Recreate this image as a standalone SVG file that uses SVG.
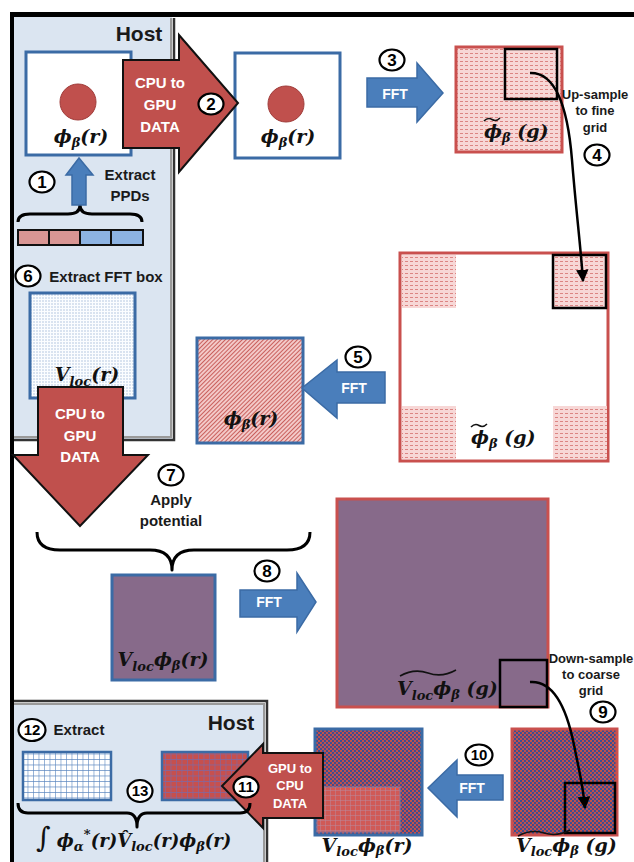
<svg xmlns="http://www.w3.org/2000/svg" width="634" height="862" viewBox="0 0 634 862">
<style>
.lbl{font-family:"Liberation Sans",Arial,sans-serif;font-weight:bold;font-size:15px;fill:#1a1a1a;text-anchor:middle}
.sm{font-size:13px}
.wt{fill:#fff;font-size:15px}
.ft{fill:#fff;font-size:14px}
.m{font-family:"DejaVu Serif","Liberation Serif",serif;font-weight:bold;font-style:italic;font-size:19px;fill:#111;text-anchor:middle}
.st{text-anchor:start}
.s{font-size:13px}
.tld{fill:none;stroke:#111;stroke-width:1.6}
.num ellipse{fill:#fff;stroke:#000;stroke-width:2.2}
.num text{font-family:"Liberation Sans",Arial,sans-serif;font-weight:bold;font-size:17px;fill:#000;text-anchor:middle}
.num .two{font-size:15px}
.bb{stroke:#3b6ba5;stroke-width:3}
.rb{stroke:#c9504e;stroke-width:3}
.blk{fill:none;stroke:#000;stroke-width:2.5}
.big{fill:#c0504d;stroke:#111;stroke-width:2}
.fft{fill:#4a7ebb;stroke:#3b6ba5;stroke-width:1.5}
.brace{fill:none;stroke:#000;stroke-width:3;stroke-linejoin:round}
.cur{fill:none;stroke:#000;stroke-width:2.5}
</style>
<defs>
<pattern id="pdots" width="5" height="4" patternUnits="userSpaceOnUse"><rect width="5" height="4" fill="#f7d7d6"/><rect x="0" y="1" width="3" height="1" fill="#dc8583"/></pattern>
<pattern id="phatch" width="3" height="3" patternUnits="userSpaceOnUse" patternTransform="rotate(45)"><rect width="3" height="3" fill="#f3c9c8"/><rect width="1" height="3" fill="#c9605d"/></pattern>
<pattern id="bdots" width="3" height="3" patternUnits="userSpaceOnUse"><rect width="3" height="3" fill="#fbfdff"/><circle cx="1" cy="1" r="0.7" fill="#9db6d6"/></pattern>
<pattern id="chk" width="4" height="4" patternUnits="userSpaceOnUse"><rect width="4" height="4" fill="#c0504d"/><rect width="2" height="2" fill="#3f4d8f"/><rect x="2" y="2" width="2" height="2" fill="#3f4d8f"/></pattern>
<pattern id="gw" width="5.5" height="5.5" patternUnits="userSpaceOnUse"><rect width="5.5" height="5.5" fill="#fff"/><path d="M0,0H5.5M0,0V5.5" stroke="#5a86c0" stroke-width="1.2"/></pattern>
<pattern id="gr" width="5.5" height="5.5" patternUnits="userSpaceOnUse"><rect width="5.5" height="5.5" fill="#c6504e"/><path d="M0,0H5.5M0,0V5.5" stroke="#7b6aa8" stroke-width="1.2"/></pattern>
<pattern id="gr2" width="5" height="5" patternUnits="userSpaceOnUse"><rect width="5" height="5" fill="#d05a57"/><path d="M0,0H5M0,0V5" stroke="#b98a9e" stroke-width="1"/></pattern>
<marker id="ah" viewBox="0 0 10 10" refX="9" refY="5" markerWidth="5" markerHeight="5" orient="auto"><path d="M0,0L10,5L0,10z" fill="#000"/></marker>
</defs>

<g id="frame">
<rect x="14" y="17" width="158" height="422" fill="#dbe5f1"/>
<path d="M171,18V437H14" fill="none" stroke="#9a9a9a" stroke-width="2"/>
<path d="M174,18V440H14" fill="none" stroke="#333" stroke-width="2.5"/>
<rect x="14" y="703" width="251" height="159" fill="#dbe5f1"/>
<path d="M14,704H264V862" fill="none" stroke="#9a9a9a" stroke-width="2"/>
<path d="M14,701H267V862" fill="none" stroke="#333" stroke-width="2.5"/>
<rect x="10" y="12" width="624" height="5" fill="#000"/>
<rect x="10" y="12" width="4" height="850" fill="#000"/>
<text class="lbl" x="139" y="41" style="font-size:21px">Host</text>
<text class="lbl" x="231" y="730" style="font-size:21px">Host</text>
</g>

<g id="ppd">
<rect x="18" y="230" width="31" height="15" fill="#d99694" stroke="#111" stroke-width="2"/>
<rect x="49" y="230" width="31" height="15" fill="#d99694" stroke="#111" stroke-width="2"/>
<rect x="80" y="230" width="31" height="15" fill="#8db3e2" stroke="#111" stroke-width="2"/>
<rect x="111" y="230" width="32" height="15" fill="#8db3e2" stroke="#111" stroke-width="2"/>
<text class="lbl" x="130" y="180">Extract</text>
<text class="lbl" x="130" y="201">PPDs</text>
</g>

<g id="phi-host">
<rect x="26" y="52" width="105" height="103" fill="#fff" class="bb"/>
<circle cx="78" cy="102" r="18" fill="#c0504d" stroke="#a03c3a" stroke-width="1"/>
<text class="m" x="81" y="143">ϕ<tspan class="s" dy="4">β</tspan><tspan dy="-4">(r)</tspan></text>
</g>

<g id="phi-gpu">
<rect x="235" y="53" width="105" height="105" fill="#fff" class="bb"/>
<circle cx="286" cy="104" r="18" fill="#c0504d" stroke="#a03c3a" stroke-width="1"/>
<text class="m" x="288" y="143">ϕ<tspan class="s" dy="4">β</tspan><tspan dy="-4">(r)</tspan></text>
</g>

<g id="phig-coarse">
<rect x="456" y="47" width="106" height="105" fill="url(#pdots)" class="rb"/>
<rect x="505" y="49" width="52" height="50" class="blk"/>
<text class="m st" x="484" y="138">ϕ<tspan class="s" dy="4">β</tspan><tspan dy="-4"> (g)</tspan></text>
<path class="tld" d="M484,121q4,-4 8,-1.5t8,-1.5"/>
<text class="lbl sm" x="595" y="99">Up-sample</text>
<text class="lbl sm" x="595" y="115">to fine</text>
<text class="lbl sm" x="595" y="132">grid</text>
</g>

<g id="phig-fine">
<rect x="400" y="253" width="208" height="208" fill="#fff" class="rb"/>
<rect x="402" y="255" width="54" height="53" fill="url(#pdots)"/>
<rect x="402" y="406" width="54" height="53" fill="url(#pdots)"/>
<rect x="553" y="406" width="54" height="53" fill="url(#pdots)"/>
<rect x="553" y="255" width="53" height="53" fill="url(#pdots)"/>
<rect x="553" y="255" width="53" height="53" class="blk"/>
<text class="m st" x="471" y="444">ϕ<tspan class="s" dy="4">β</tspan><tspan dy="-4"> (g)</tspan></text>
<path class="tld" d="M471,427q4,-4 8,-1.5t8,-1.5"/>
</g>

<g id="phi-fine">
<rect x="197" y="338" width="106" height="105" fill="url(#phatch)" class="bb"/>
<text class="m" x="251" y="425">ϕ<tspan class="s" dy="4">β</tspan><tspan dy="-4">(r)</tspan></text>
</g>

<g id="vloc">
<text class="lbl" x="106" y="282">Extract FFT box</text>
<rect x="30" y="293" width="105" height="105" fill="url(#bdots)" class="bb"/>
<text class="m" x="87" y="381">V<tspan class="s" dy="5">loc</tspan><tspan dy="-5">(r)</tspan></text>
</g>

<g id="vphi-r">
<rect x="112" y="575" width="103" height="105" fill="#876a8a" class="bb"/>
<text class="m" x="163" y="666">V<tspan class="s" dy="5">loc</tspan><tspan dy="-5">ϕ</tspan><tspan class="s" dy="4">β</tspan><tspan dy="-4">(r)</tspan></text>
<text class="lbl" x="171" y="505">Apply</text>
<text class="lbl" x="171" y="526">potential</text>
</g>

<g id="vphi-g-fine">
<rect x="337" y="499" width="211" height="208" fill="#876a8a" class="rb"/>
<rect x="500" y="660" width="47" height="47" class="blk"/>
<text class="m st" x="397" y="695">V<tspan class="s" dy="5">loc</tspan><tspan dy="-5">ϕ</tspan><tspan class="s" dy="4">β</tspan><tspan dy="-4"> (g)</tspan></text>
<path class="tld" d="M400,676q14,-8 28,-3t28,-3"/>
<text class="lbl sm" x="591" y="663">Down-sample</text>
<text class="lbl sm" x="591" y="679">to coarse</text>
<text class="lbl sm" x="591" y="695">grid</text>
</g>

<g id="vphi-g-coarse">
<rect x="512" y="729" width="105" height="106" fill="url(#chk)" class="rb"/>
<rect x="565" y="783" width="50" height="50" class="blk"/>
<text class="m st" x="516" y="852">V<tspan class="s" dy="4">loc</tspan><tspan dy="-4">ϕ</tspan><tspan class="s" dy="3">β</tspan><tspan dy="-3"> (g)</tspan></text>
<path class="tld" d="M518,836q13,-7 26,-3t26,-3"/>
</g>

<g id="vphi-r-coarse">
<rect x="315" y="729" width="107" height="106" fill="url(#chk)" class="bb"/>
<rect x="317" y="787" width="83" height="45" fill="url(#gr2)" stroke="#8a7aa0" stroke-width="1"/>
<text class="m" x="367" y="852">V<tspan class="s" dy="4">loc</tspan><tspan dy="-4">ϕ</tspan><tspan class="s" dy="3">β</tspan><tspan dy="-3">(r)</tspan></text>
</g>

<g id="host-result">
<text class="lbl" x="79" y="735">Extract</text>
<rect x="23" y="752" width="88" height="48" fill="url(#gw)" stroke="#3b6ba5" stroke-width="2.5"/>
<rect x="162" y="752" width="86" height="48" fill="url(#gr)" stroke="#3b6ba5" stroke-width="2.5"/>
<text class="m st" x="36" y="847" style="font-size:18px"><tspan style="font-size:28px;font-style:normal;font-weight:normal">∫</tspan> ϕ<tspan class="s" dy="4">α</tspan><tspan class="s" dy="-12">*</tspan><tspan dy="8">(r)V̂</tspan><tspan class="s" dy="4">loc</tspan><tspan dy="-4">(r)ϕ</tspan><tspan class="s" dy="4">β</tspan><tspan dy="-4">(r)</tspan></text>
</g>

<g id="connectors">
<path class="brace" d="M18,222Q18,214 30,214L68,214Q80,214 80,205Q80,214 92,214L130,214Q142,214 142,222"/>
<path class="fft" d="M72,205H86V175H93L79,158L66,175H72Z"/>
<path class="big" d="M123,60H179V35L238,103L179,172V148H123Z"/>
<text class="lbl wt" x="160" y="88">CPU to</text>
<text class="lbl wt" x="160" y="110">GPU</text>
<text class="lbl wt" x="160" y="132">DATA</text>
<path class="fft" d="M367,78H417V63L443,93L417,122V107H367Z"/>
<text class="lbl ft" x="395" y="99">FFT</text>
<path class="cur" marker-end="url(#ah)" d="M530,73C556,72 568,110 572,160S581,250 583,281"/>
<path class="fft" d="M385,372H337V360L302,388L337,418V403H385Z"/>
<text class="lbl ft" x="354" y="393">FFT</text>
<path class="big" d="M38,387H123V455H148L80,526L13,455H38Z"/>
<text class="lbl wt" x="80" y="419">CPU to</text>
<text class="lbl wt" x="80" y="441">GPU</text>
<text class="lbl wt" x="80" y="462">DATA</text>
<path class="brace" d="M37,532Q37,550 60,550L150,550Q172,550 172,570Q172,550 194,550L287,550Q310,550 310,532"/>
<path class="fft" d="M240,590H297V573L316,602L297,632V617H240Z"/>
<text class="lbl ft" x="269" y="607">FFT</text>
<path class="cur" marker-end="url(#ah)" d="M530,682C556,680 568,715 574,745S583,785 585,808"/>
<path class="fft" d="M503,775H457V760L428,788L457,817V800H503Z"/>
<text class="lbl ft" x="472" y="793">FFT</text>
<path class="big" d="M323,753V818H263V828L222,786L263,744V753Z"/>
<text class="lbl wt" x="290" y="773" style="font-size:13px">GPU to</text>
<text class="lbl wt" x="290" y="790" style="font-size:13px">CPU</text>
<text class="lbl wt" x="290" y="808" style="font-size:13px">DATA</text>
<path class="brace" d="M18,803Q18,813 28,813L127,813Q137,813 137,827Q137,813 147,813L240,813Q250,813 250,803"/>
</g>

<g id="steps" class="num">
<g id="n1"><ellipse cx="42" cy="182" rx="12.5" ry="10.5"/><text x="42" y="188">1</text></g>
<g id="n2"><ellipse cx="211" cy="104" rx="12.5" ry="10.5"/><text x="211" y="110">2</text></g>
<g id="n3"><ellipse cx="392" cy="60" rx="12.5" ry="10.5"/><text x="392" y="66">3</text></g>
<g id="n4"><ellipse cx="597" cy="155" rx="12.5" ry="10.5"/><text x="597" y="161">4</text></g>
<g id="n5"><ellipse cx="358" cy="357" rx="12.5" ry="10.5"/><text x="358" y="363">5</text></g>
<g id="n6"><ellipse cx="28" cy="276" rx="12.5" ry="10.5"/><text x="28" y="282">6</text></g>
<g id="n7"><ellipse cx="171" cy="475" rx="12.5" ry="10.5"/><text x="171" y="481">7</text></g>
<g id="n8"><ellipse cx="267" cy="571" rx="12.5" ry="10.5"/><text x="267" y="577">8</text></g>
<g id="n9"><ellipse cx="603" cy="712" rx="12.5" ry="10.5"/><text x="603" y="718">9</text></g>
<g id="n10"><ellipse cx="479" cy="755" rx="13.5" ry="10.5"/><text class="two" x="479" y="760">10</text></g>
<g id="n11"><ellipse cx="246" cy="787" rx="12.5" ry="10.5"/><text class="two" x="246" y="792">11</text></g>
<g id="n12"><ellipse cx="32" cy="730" rx="13.5" ry="11"/><text class="two" x="32" y="735">12</text></g>
<g id="n13"><ellipse cx="140" cy="791" rx="12.5" ry="11"/><text class="two" x="140" y="796">13</text></g>
</g>
</svg>
